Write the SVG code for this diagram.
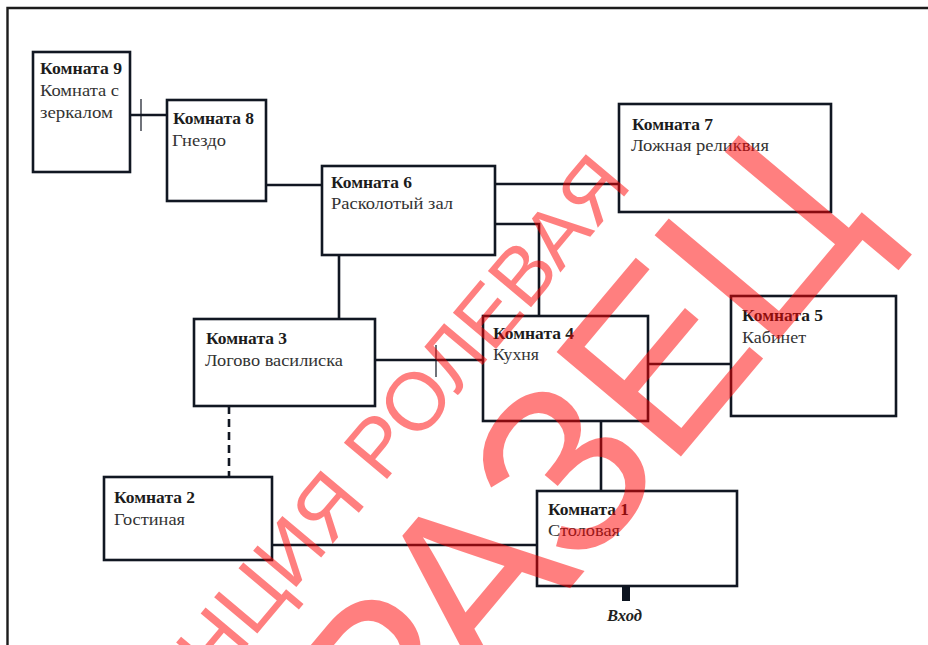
<svg xmlns="http://www.w3.org/2000/svg" width="928" height="645" viewBox="0 0 928 645">
<style>
.room{fill:#fff;stroke:#111722;stroke-width:2.6}
.c{fill:none;stroke:#111722;stroke-width:2.6}
.t{fill:none;stroke:#111722;stroke-width:1.2}
.h{font:bold 16.5px "Liberation Serif",serif;fill:#1c1c1c}
.s{font:17px "Liberation Serif",serif;fill:#333}
.wm{font-family:"Liberation Sans",sans-serif;fill:#ff0000;fill-opacity:.5}
</style>
<rect width="928" height="645" fill="#fff"/>
<path d="M7.500 645V8H928" fill="none" stroke="#1c1c1c" stroke-width="2.400"/>
<g id="connectors">
<path class="c" d="M130 115H167"/><path class="t" d="M141 99V131"/>
<path class="c" d="M266 185H322"/>
<path class="c" d="M495 184H619"/>
<path class="c" d="M495 224H539V316"/>
<path class="c" d="M339 255V319"/>
<path class="c" d="M375 360H483"/><path class="t" d="M436 345V377"/>
<path class="c" d="M648 364H731"/>
<path class="c" d="M601 421V491"/>
<path class="c" d="M229 406V477" stroke-dasharray="8 5"/>
<path class="c" d="M272 545H537"/>
</g>
<g id="room9"><rect class="room" x="33" y="52" width="97" height="120"/><text class="h" x="40" y="74" textLength="82" lengthAdjust="spacingAndGlyphs">Комната 9</text><text class="s" x="40" y="96" textLength="79" lengthAdjust="spacingAndGlyphs">Комната с</text><text class="s" x="40" y="118" textLength="73" lengthAdjust="spacingAndGlyphs">зеркалом</text></g>
<g id="room8"><rect class="room" x="167" y="100" width="99" height="101"/><text class="h" x="173" y="124" textLength="81" lengthAdjust="spacingAndGlyphs">Комната 8</text><text class="s" x="172" y="146" textLength="54" lengthAdjust="spacingAndGlyphs">Гнездо</text></g>
<g id="room6"><rect class="room" x="322" y="166" width="173" height="89"/><text class="h" x="331" y="188" textLength="81" lengthAdjust="spacingAndGlyphs">Комната 6</text><text class="s" x="331" y="209" textLength="122" lengthAdjust="spacingAndGlyphs">Расколотый зал</text></g>
<g id="room7"><rect class="room" x="619" y="104" width="212" height="108"/><text class="h" x="632" y="130" textLength="81" lengthAdjust="spacingAndGlyphs">Комната 7</text><text class="s" x="631" y="151" textLength="138" lengthAdjust="spacingAndGlyphs">Ложная реликвия</text></g>
<g id="room3"><rect class="room" x="194" y="319" width="181" height="87"/><text class="h" x="206" y="344" textLength="81" lengthAdjust="spacingAndGlyphs">Комната 3</text><text class="s" x="205" y="366" textLength="138" lengthAdjust="spacingAndGlyphs">Логово василиска</text></g>
<g id="room4"><rect class="room" x="483" y="316" width="165" height="105"/><text class="h" x="493" y="339" textLength="81" lengthAdjust="spacingAndGlyphs">Комната 4</text><text class="s" x="493" y="360" textLength="46" lengthAdjust="spacingAndGlyphs">Кухня</text></g>
<g id="room5"><rect class="room" x="731" y="296" width="165" height="120"/><text class="h" x="742" y="321" textLength="81" lengthAdjust="spacingAndGlyphs">Комната 5</text><text class="s" x="742" y="343" textLength="64" lengthAdjust="spacingAndGlyphs">Кабинет</text></g>
<g id="room2"><rect class="room" x="104" y="477" width="168" height="83"/><text class="h" x="114" y="503" textLength="81" lengthAdjust="spacingAndGlyphs">Комната 2</text><text class="s" x="114" y="525" textLength="71" lengthAdjust="spacingAndGlyphs">Гостиная</text></g>
<g id="room1"><rect class="room" x="537" y="491" width="200" height="95"/><text class="h" x="548" y="515" textLength="81" lengthAdjust="spacingAndGlyphs">Комната 1</text><text class="s" x="548" y="536" textLength="72" lengthAdjust="spacingAndGlyphs">Столовая</text></g>
<g id="entrance"><rect x="622" y="586" width="8" height="15" fill="#0d1420"/><text x="607" y="621" font-family="Liberation Serif,serif" font-style="italic" font-weight="bold" font-size="16" fill="#222" textLength="35" lengthAdjust="spacingAndGlyphs">Вход</text></g>
<g id="watermark">
<text class="wm" font-size="82" transform="translate(215 684) rotate(-50)">НЦИЯ РОЛЕВАЯ</text>
<text class="wm" font-size="236" letter-spacing="-5" transform="translate(396 796) rotate(-50)">РАЗЕЦ</text>
</g>
</svg>
